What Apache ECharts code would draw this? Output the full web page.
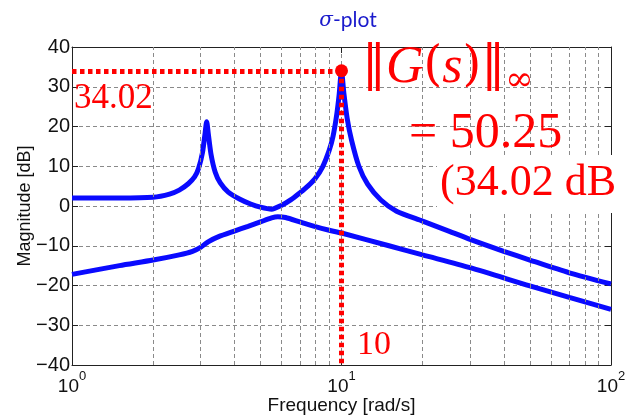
<!DOCTYPE html>
<html>
<head>
<meta charset="utf-8">
<script src="https://cdn.jsdelivr.net/npm/echarts@6/dist/echarts.min.js"></script>
<style>
html,body{margin:0;padding:0;background:#fff;}
#main{width:639px;height:417px;}
</style>
</head>
<body>
<div id="main"></div>
<script>
// upper singular value
var freqUpper = [1, 1.5, 2, 2.3, 2.5, 2.7, 2.85, 2.95, 3.05, 3.12, 3.16, 3.2, 3.28, 3.4, 3.55, 3.8, 4.2, 4.6, 5.0, 5.5, 6.0, 6.5, 7, 7.5, 8, 8.5, 9, 9.3, 9.6, 9.8, 10, 10.2, 10.5, 10.9, 11.6, 12.5, 14, 16, 20, 25, 30, 40, 50, 70, 100];
var magUpper = [2.0, 2.0, 2.2, 3.0, 4.0, 5.6, 7.3, 9.5, 13.5, 18.5, 21.2, 18.5, 13, 8.5, 5.8, 3.5, 1.7, 0.5, -0.3, -0.8, 0.2, 1.6, 3.3, 5.0, 7.0, 9.8, 14, 17.5, 23, 28, 34.02, 28.5, 22, 16.5, 10, 5.5, 1.5, -1.3, -3.8, -6.3, -8.4, -11.4, -13.6, -16.8, -19.6];
// lower singular value
var freqLower = [1, 1.5, 2, 2.5, 2.8, 3.0, 3.2, 3.5, 4, 4.5, 5, 5.5, 5.8, 6.2, 7, 8, 9, 10, 15, 20, 30, 50, 70, 100];
var magLower = [-17.2, -15.0, -13.6, -12.3, -11.4, -10.4, -9.0, -7.7, -6.3, -5.1, -4.0, -3.0, -2.7, -2.9, -4.0, -5.2, -6.1, -6.8, -10.0, -12.3, -15.5, -20.1, -23.0, -26.0];
var minorFreqs = [2, 3, 4, 5, 6, 7, 8, 9, 20, 30, 40, 50, 60, 70, 80, 90];
var peakFreq = 10;
var peakDb = 34.02;
var hinfGain = '50.25';

function pairs(xs, ys){
	var out = [];
	for (var i = 0; i < xs.length; i++) out.push([xs[i], ys[i]]);
	return out;
}

var chart = echarts.init(document.getElementById('main'));
var sans = 'Liberation Sans, Arial, sans-serif';
var serif = 'Liberation Serif, DejaVu Serif, serif';
var gridDash = {color: '#8a8a8a', width: 1, type: [4, 3]};

var option = {
	animation: false,
	backgroundColor: '#fff',
	title: {
		text: '{i|σ}-plot',
		left: 343,
		top: 5,
		textAlign: 'center',
		textStyle: {
			fontFamily: 'Lato, Open Sans, sans-serif',
			fontSize: 21,
			fontWeight: 'normal',
			color: '#1a1acc',
			rich: {
				i: {fontFamily: 'DejaVu Serif, serif', fontStyle: 'italic', fontSize: 20, color: '#1a1acc'}
			}
		}
	},
	grid: {left: 72, right: 28, top: 47, bottom: 52, containLabel: false, outerBoundsMode: 'none'},
	xAxis: [
		{
			type: 'log',
			logBase: 10,
			min: 1,
			max: 100,
			name: 'Frequency [rad/s]',
			nameLocation: 'middle',
			nameGap: 31,
			nameMoveOverlap: false,
			nameTextStyle: {fontFamily: sans, fontSize: 19, color: '#111', verticalAlign: 'top'},
			axisLine: {onZero: false, lineStyle: {color: '#222', width: 1}},
			axisTick: {inside: true, length: 6, lineStyle: {color: '#222'}},
			axisLabel: {
				margin: 5,
				formatter: function(v){
					return '{b|10}{s|' + Math.round(Math.log10(v)) + '}';
				},
				rich: {
					b: {fontFamily: sans, fontSize: 19, color: '#111', lineHeight: 26, verticalAlign: 'bottom'},
					s: {fontFamily: sans, fontSize: 13, color: '#111', verticalAlign: 'top', lineHeight: 14}
				}
			},
			splitLine: {show: true, lineStyle: gridDash}
		},
		{
			type: 'log',
			logBase: 10,
			min: 1,
			max: 100,
			position: 'top',
			axisLine: {onZero: false, lineStyle: {color: '#222', width: 1}},
			axisTick: {inside: true, length: 6, lineStyle: {color: '#222'}},
			axisLabel: {show: false},
			splitLine: {show: false}
		}
	],
	yAxis: [
		{
			type: 'value',
			min: -40,
			max: 40,
			interval: 10,
			name: 'Magnitude [dB]',
			nameLocation: 'middle',
			nameGap: 38,
			nameMoveOverlap: false,
			nameTextStyle: {fontFamily: sans, fontSize: 18, color: '#111'},
			axisLine: {show: true, onZero: false, lineStyle: {color: '#222', width: 1}},
			axisTick: {show: true, inside: true, length: 6, lineStyle: {color: '#222'}},
			axisLabel: {
				fontFamily: sans, fontSize: 20, color: '#111', margin: 2,
				formatter: function(v){ return String(v).replace('-', '\u2212'); }
			},
			splitLine: {show: true, lineStyle: gridDash}
		},
		{
			type: 'value',
			min: -40,
			max: 40,
			interval: 10,
			position: 'right',
			axisLine: {show: true, onZero: false, lineStyle: {color: '#222', width: 1}},
			axisTick: {show: true, inside: true, length: 6, lineStyle: {color: '#222'}},
			axisLabel: {show: false},
			splitLine: {show: false}
		}
	],
	series: [
		{
			// minor log grid lines
			type: 'line',
			data: [],
			silent: true,
			z: 1,
			markLine: {
				silent: true,
				symbol: 'none',
				label: {show: false},
				lineStyle: gridDash,
				data: minorFreqs.map(function(f){ return {xAxis: f}; })
			}
		},
		{
			name: 'sigma max',
			type: 'line',
			data: pairs(freqUpper, magUpper),
			showSymbol: false,
			smooth: 0.25,
			z: 3,
			lineStyle: {color: '#0a0aff', width: 5},
			itemStyle: {color: '#0a0aff'}
		},
		{
			name: 'sigma min',
			type: 'line',
			data: pairs(freqLower, magLower),
			showSymbol: false,
			smooth: 0.25,
			z: 3,
			lineStyle: {color: '#0a0aff', width: 5},
			itemStyle: {color: '#0a0aff'}
		},
		{
			// H-infinity norm marker
			type: 'line',
			data: [],
			z: 5,
			markLine: {
				silent: true,
				symbol: 'none',
				label: {show: false},
				lineStyle: {color: '#ff0000', width: 5, type: [4.5, 3.5], cap: 'butt'},
				data: [
					[{coord: [1, peakDb]}, {coord: [peakFreq, peakDb]}],
					[{coord: [peakFreq, peakDb]}, {coord: [peakFreq, -40]}]
				]
			},
			markPoint: {
				silent: true,
				symbol: 'circle',
				symbolSize: 13,
				itemStyle: {color: '#ff0000'},
				label: {show: false},
				data: [{coord: [peakFreq, peakDb]}]
			}
		}
	],
	graphic: [
		{type: 'text', left: 74, top: 81, z: 20, style: {text: peakDb.toFixed(2), font: '35px ' + serif, fill: '#ff0000'}},
		{type: 'text', left: 357, top: 328, z: 20, style: {text: String(peakFreq), font: '34px ' + serif, fill: '#ff0000'}},
		{type: 'text', left: 362, top: 42, z: 20, style: {
			text: '{n|‖}{i|G}{n|(}{i|s}{n|)}{n|‖}{sub|∞}',
			fill: '#ff0000',
			rich: {
				n: {fontFamily: 'DejaVu Serif, serif', fontSize: 48, fill: '#ff0000', lineHeight: 60},
				i: {fontFamily: serif, fontStyle: 'italic', fontSize: 52, fill: '#ff0000', lineHeight: 60},
				sub: {fontFamily: 'DejaVu Serif, serif', fontSize: 34, fill: '#ff0000', verticalAlign: 'bottom', lineHeight: 40}
			}
		}},
		{type: 'text', left: 409, top: 109, z: 20, style: {text: '= ' + hinfGain, font: '50px ' + serif, fill: '#ff0000'}},
		{type: 'rect', left: 437, top: 155, z: 19, shape: {width: 210, height: 58}, style: {fill: '#fff'}},
		{type: 'text', left: 440, top: 161, z: 20, style: {text: '(' + peakDb.toFixed(2) + ' dB', font: '44px ' + serif, fill: '#ff0000'}}
	]
};
chart.setOption(option);
</script>
</body>
</html>
